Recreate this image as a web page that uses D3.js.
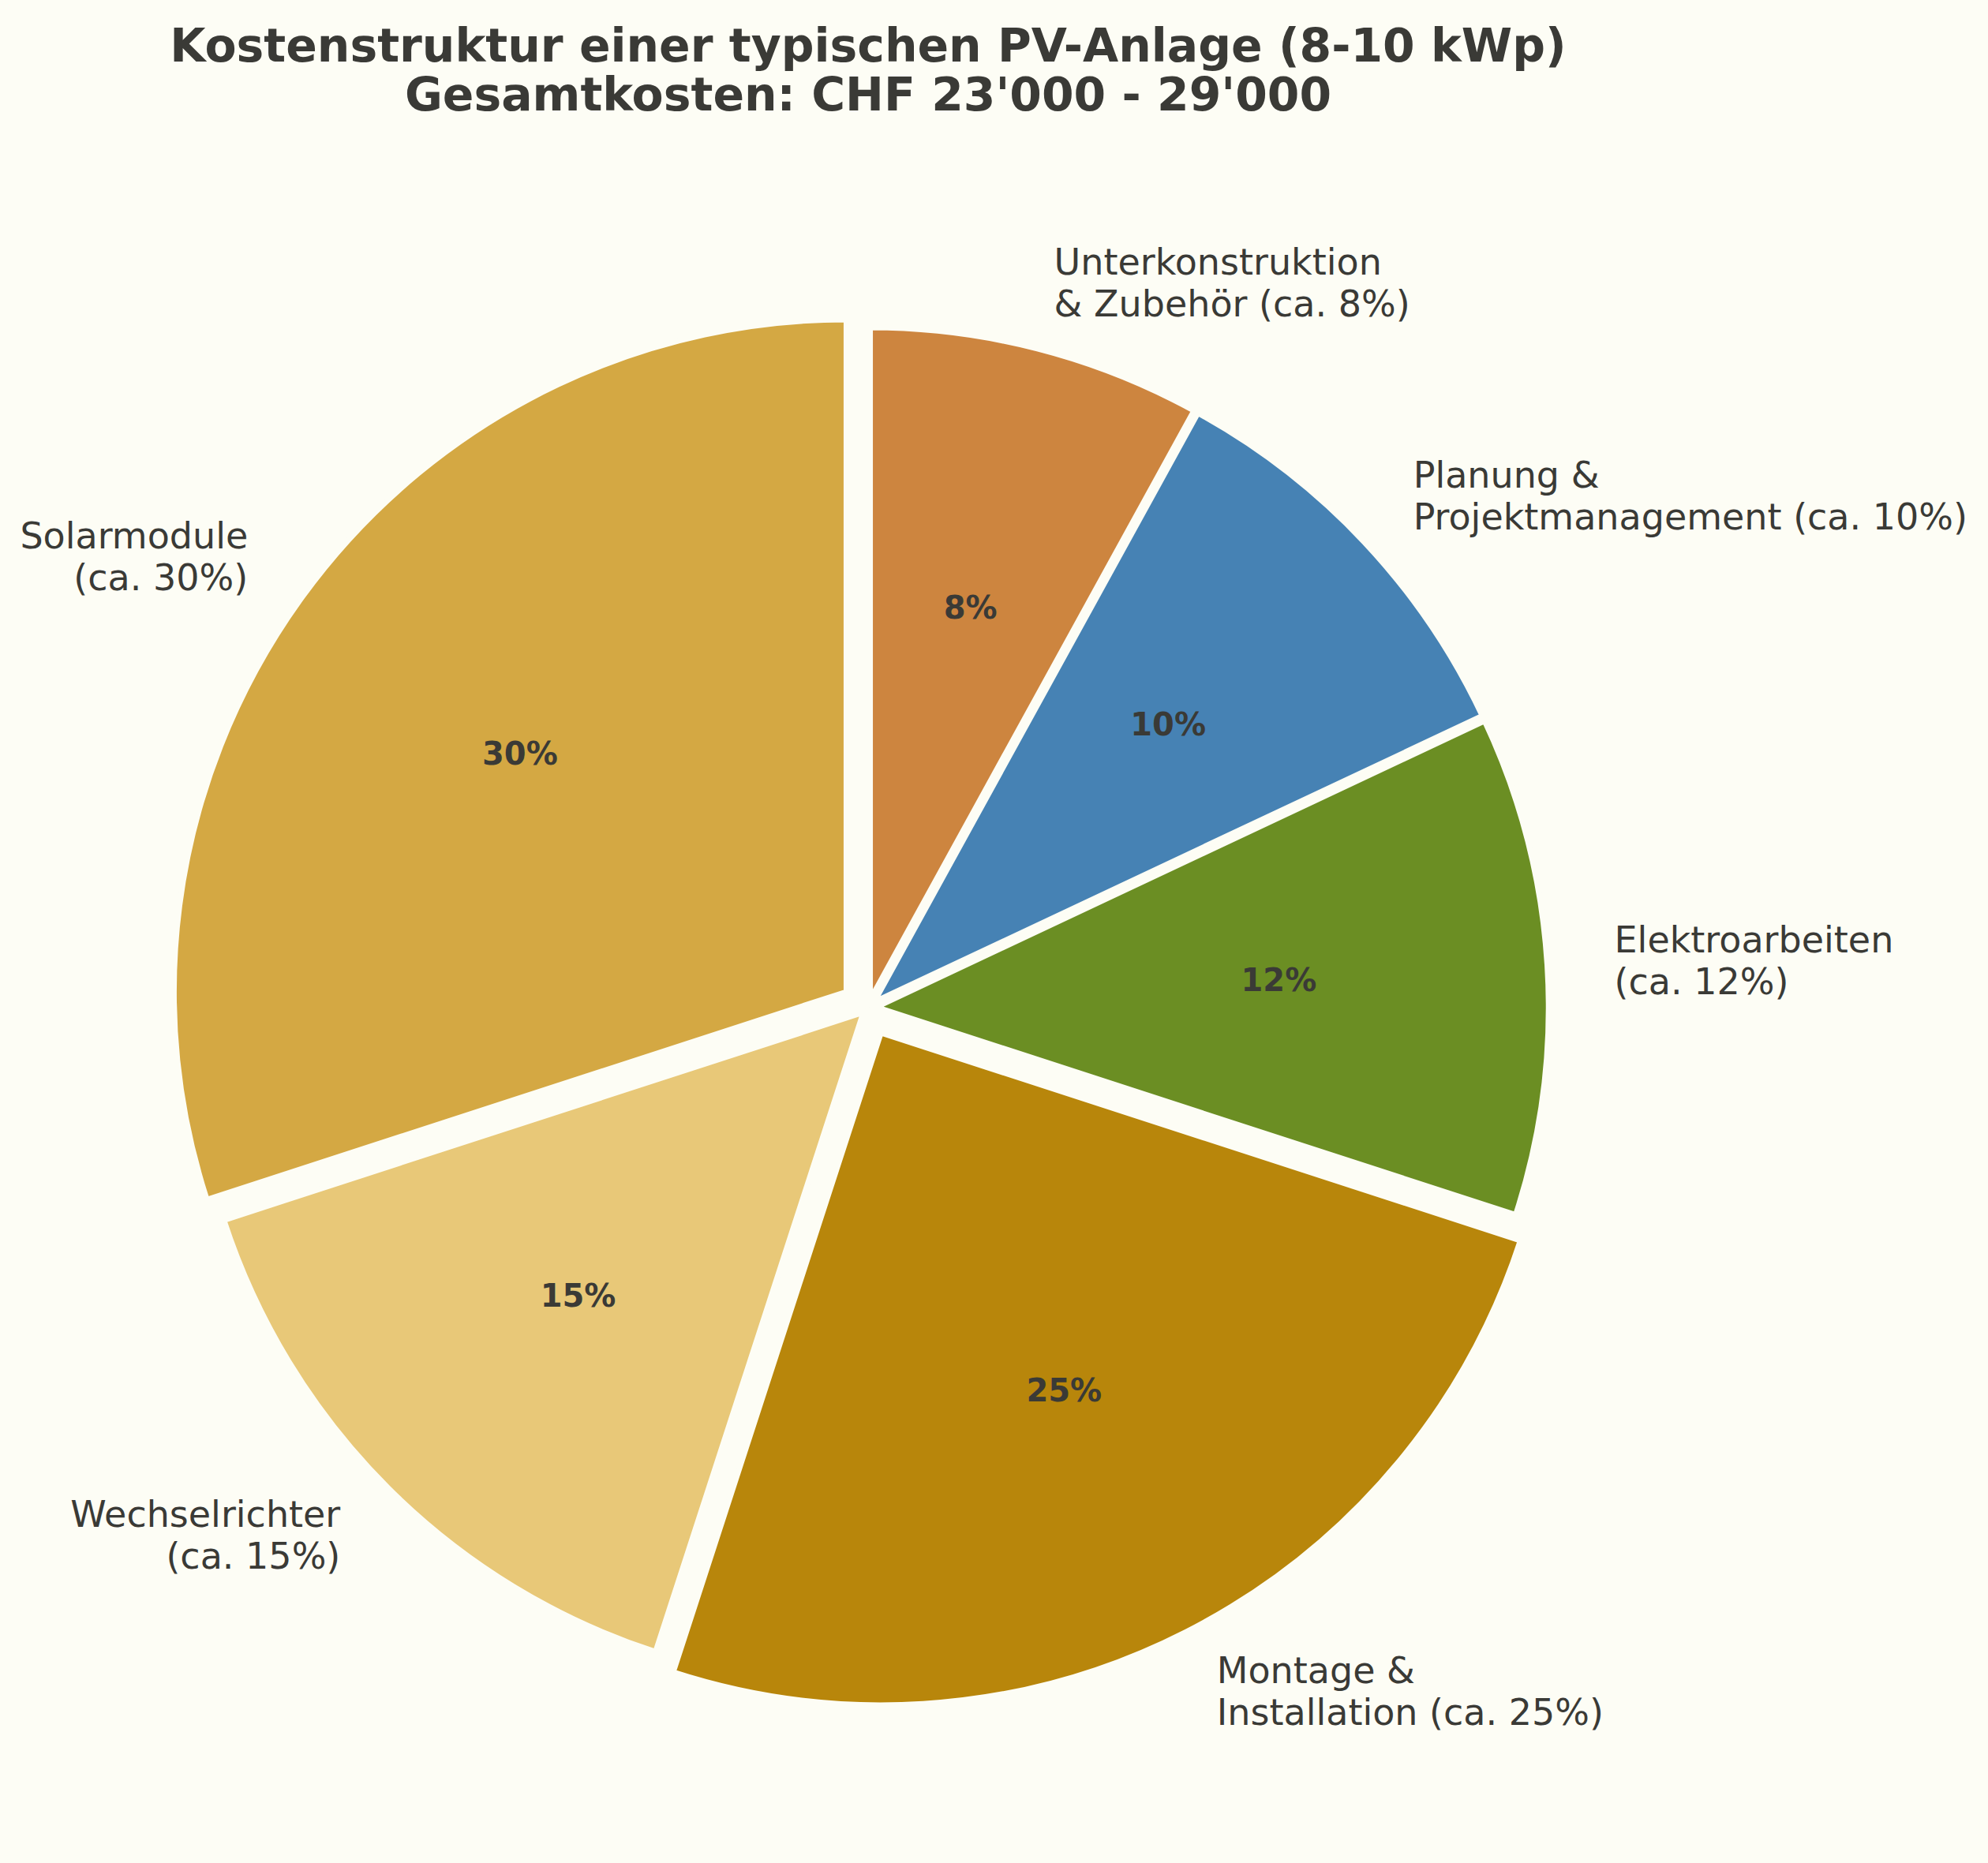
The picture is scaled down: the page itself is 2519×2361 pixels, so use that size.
<!DOCTYPE html>
<html>
<head>
<meta charset="utf-8">
<script src="https://cdn.jsdelivr.net/npm/d3@7/dist/d3.min.js"></script>
<style>
  body { margin: 0; background: #FDFDF5; }
  text { font-family: "DejaVu Sans", sans-serif; fill: #3A3A36; }
</style>
</head>
<body>
<div id="chart"></div>
<script>
// Data
const categories = ['Solarmodule', 'Wechselrichter', 'Montage &\nInstallation', 'Elektroarbeiten', 'Planung &\nProjektmanagement', 'Unterkonstruktion\n& Zubehör'];
const values = [30, 15, 25, 12, 10, 8];
const colors = ['#D4A843', '#E8C878', '#B8860B', '#6B8E23', '#4682B4', '#CD853F'];
const explode = [0.04, 0.01, 0.042, 0.012, 0.012, 0.012];
const titleLines = ['Kostenstruktur einer typischen PV-Anlage (8-10 kWp)', "Gesamtkosten: CHF 23'000 - 29'000"];

const width = 2519, height = 2361;
const bg = '#FDFDF5';
const cx = 1100, cy = 1277, radius = 852;

const svg = d3.select('#chart')
  .append('svg')
  .attr('width', width)
  .attr('height', height);

svg.append('rect').attr('width', width).attr('height', height).attr('fill', bg);

// Title
svg.append('text')
  .attr('x', cx)
  .attr('text-anchor', 'middle')
  .style('font-size', '58.4px')
  .style('font-weight', 'bold')
  .selectAll('tspan')
  .data(titleLines)
  .enter()
  .append('tspan')
  .attr('x', cx)
  .attr('y', (d, i) => 78 + i * 62)
  .text((d) => d);

// Pie layout: start at 12 o'clock, counterclockwise like matplotlib
const pie = d3.pie().sort(null).startAngle(0).endAngle(-2 * Math.PI);
const arcs = pie(values).map((a, i) => {
  const mid = (a.startAngle + a.endAngle) / 2;
  const off = explode[i] * radius;
  return { ...a, i, mid, dx: off * Math.sin(mid), dy: -off * Math.cos(mid) };
});

const arcGen = d3.arc().innerRadius(0).outerRadius(radius);

const g = svg.append('g').attr('transform', `translate(${cx},${cy})`);

g.selectAll('path')
  .data(arcs)
  .enter()
  .append('path')
  .attr('transform', (d) => `translate(${d.dx},${d.dy})`)
  .attr('d', arcGen)
  .attr('fill', (d) => colors[d.i])
  .attr('stroke', bg)
  .attr('stroke-width', 7)
  .attr('stroke-linejoin', 'miter')
  .attr('stroke-miterlimit', 10);

// Percent labels (inside)
const pctSize = 40;
g.selectAll('text.pct')
  .data(arcs)
  .enter()
  .append('text')
  .attr('class', 'pct')
  .attr('x', (d) => d.dx + 0.6 * radius * Math.sin(d.mid))
  .attr('y', (d) => d.dy - 0.6 * radius * Math.cos(d.mid) + 0.3 * pctSize)
  .attr('text-anchor', 'middle')
  .style('font-size', pctSize + 'px')
  .style('font-weight', 'bold')
  .text((d) => `${values[d.i]}%`);

// Outside labels
const labelSize = 46;
const lineGap = 53;
const labelText = (i) => {
  const name = categories[i];
  return name.includes('\n') ? `${name} (ca. ${values[i]}%)` : `${name}\n(ca. ${values[i]}%)`;
};

const labels = g.selectAll('text.lbl')
  .data(arcs)
  .enter()
  .append('text')
  .attr('class', 'lbl')
  .style('font-size', labelSize + 'px')
  .attr('text-anchor', (d) => (d.dx + 1.1 * radius * Math.sin(d.mid) > 0 ? 'start' : 'end'));

labels.each(function (d) {
  const lines = labelText(d.i).split('\n');
  const x = d.dx + 1.1 * radius * Math.sin(d.mid);
  const y = d.dy - 1.1 * radius * Math.cos(d.mid);
  const y0 = y - ((lines.length - 1) * lineGap) / 2 + 0.34 * labelSize;
  d3.select(this).selectAll('tspan')
    .data(lines)
    .enter()
    .append('tspan')
    .attr('x', x)
    .attr('y', (l, k) => y0 + k * lineGap)
    .text((l) => l);
});
</script>
</body>
</html>
